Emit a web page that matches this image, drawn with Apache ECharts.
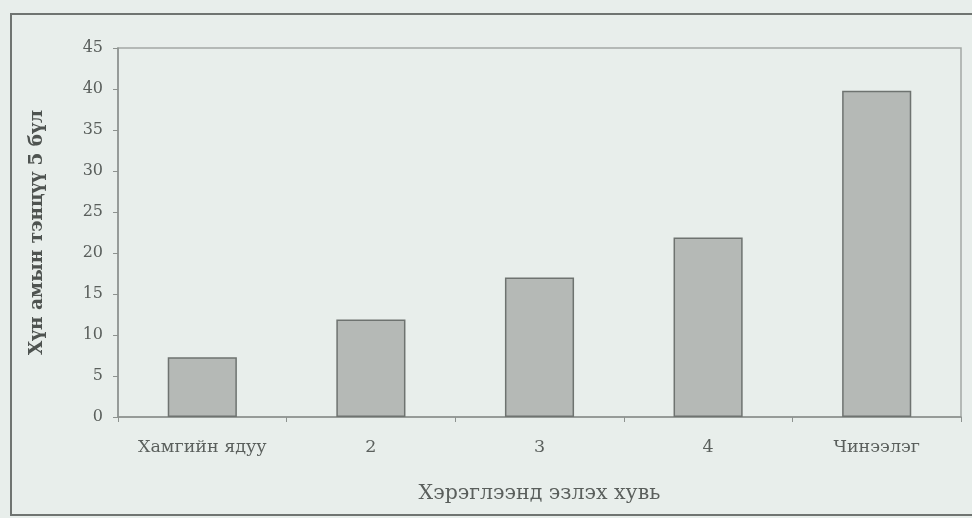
<!DOCTYPE html>
<html><head><meta charset="utf-8">
<script src="https://cdn.jsdelivr.net/npm/echarts@6/dist/echarts.min.js"></script>
<style>
html,body{margin:0;padding:0;background:#e8eeeb;}
#frame{position:absolute;left:10px;top:13px;width:972px;height:503px;border:2px solid #6f7471;border-right:none;box-sizing:border-box;}
#c{position:absolute;left:0;top:0;width:972px;height:518px;}
</style></head>
<body>
<div id="frame"></div>
<div id="c"></div>
<script>
var categories = ['Хамгийн ядуу', '2', '3', '4', 'Чинээлэг'];
var values = [7.3, 11.9, 17.0, 21.9, 39.8];
var yTicks = {min: 0, max: 45, interval: 5};
var xTitle = 'Хэрэглээнд эзлэх хувь';
var yTitle = 'Хүн амын тэнцүү 5 бүл';

var chart = echarts.init(document.getElementById('c'));
chart.setOption({
  backgroundColor: 'transparent',
  animation: false,
  grid: {left: 118, right: 11, top: 48, bottom: 101, show: true, borderColor: '#a3a8a5', borderWidth: 1.5, backgroundColor: 'transparent'},
  xAxis: {
    type: 'category', data: categories,
    axisLine: {lineStyle: {color: '#8d928f', width: 1.5}},
    axisTick: {show: true, length: 5, lineStyle: {color: '#8d928f'}},
    axisLabel: {color: '#5a5f5c', fontFamily: 'DejaVu Serif', fontSize: 17.5, margin: 21},
    name: xTitle, nameLocation: 'middle', nameGap: 66,
    nameTextStyle: {color: '#5a5f5c', fontFamily: 'DejaVu Serif', fontSize: 20.5}
  },
  yAxis: {
    type: 'value', min: yTicks.min, max: yTicks.max, interval: yTicks.interval,
    axisLine: {show: true, lineStyle: {color: '#8d928f', width: 1.5}},
    axisTick: {show: true, length: 5, lineStyle: {color: '#8d928f'}},
    splitLine: {show: false},
    axisLabel: {color: '#5a5f5c', fontFamily: 'DejaVu Serif', fontSize: 16, margin: 15},
    name: yTitle, nameLocation: 'middle', nameGap: 71, nameRotate: 90,
    nameTextStyle: {color: '#4e5350', fontFamily: 'DejaVu Serif', fontSize: 18.5, fontWeight: 'bold'}
  },
  series: [{
    type: 'bar', data: values, barWidth: '41%',
    itemStyle: {color: '#b5b9b6', borderColor: '#6e7370', borderWidth: 1.5}
  }]
});
</script>
</body></html>
